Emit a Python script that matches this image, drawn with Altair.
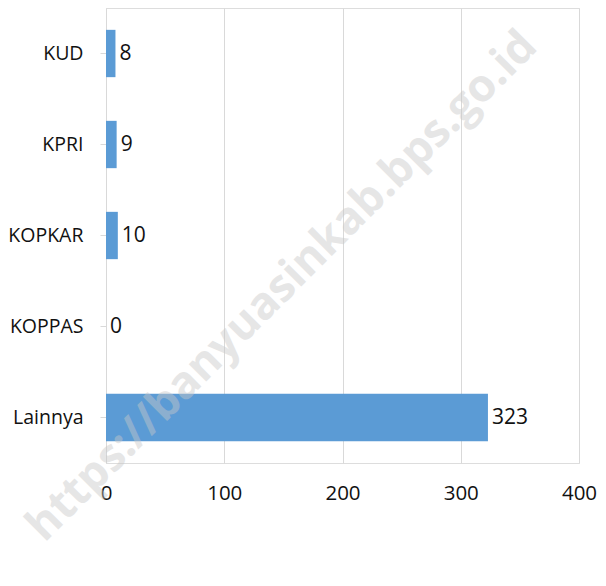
import altair as alt
import pandas as pd

categories = ["KUD", "KPRI", "KOPKAR", "KOPPAS", "Lainnya"]
values = [8, 9, 10, 0, 323]
x_ticks = [0, 100, 200, 300, 400]
watermark = "https://banyuasinkab.bps.go.id"

df = pd.DataFrame({"cat": categories, "val": values})

FONT = "Open Sans"

x = alt.X("val:Q", scale=alt.Scale(domain=[0, 400], nice=False),
          axis=alt.Axis(values=x_ticks, title=None, domain=False, ticks=False,
                        grid=True, gridColor="#d9d9d9", gridWidth=1,
                        labelFont=FONT, labelFontSize=20.5, labelColor="#111111",
                        labelPadding=20, labelAlign="center"))
y = alt.Y("cat:N", sort=categories, scale=alt.Scale(paddingInner=0.48, paddingOuter=0.24),
          axis=alt.Axis(title=None, domain=True, domainColor="#d9d9d9", ticks=True,
                        tickColor="#d9d9d9", tickSize=6, grid=False,
                        labelFont=FONT, labelFontSize=19.5, labelColor="#111111",
                        labelPadding=17))

bars = alt.Chart(df).mark_bar(color="#5B9BD5").encode(x=x, y=y)
texts = alt.Chart(df).mark_text(align="left", baseline="middle", dx=4, font=FONT,
                                fontSize=21, color="#111111").encode(
    x="val:Q", y=alt.Y("cat:N", sort=categories), text="val:Q")

wm = alt.Chart(pd.DataFrame({"t": [watermark]})).mark_text(
    font=FONT, fontSize=45, fontWeight="bold", angle=315, color="#c8c8c8", opacity=0.45,
    align="center", baseline="middle").encode(
    x=alt.value(176), y=alt.value(278), text="t:N")

chart = alt.layer(bars, texts, wm).properties(
    width=473, height=455,
    autosize=alt.AutoSizeParams(type="none"),
    padding={"left": 98, "top": 0, "right": 19, "bottom": 100},
).configure_view(stroke=None).configure(background="white")

chart.save("out.html", embed_options={"renderer": "svg", "actions": False})
